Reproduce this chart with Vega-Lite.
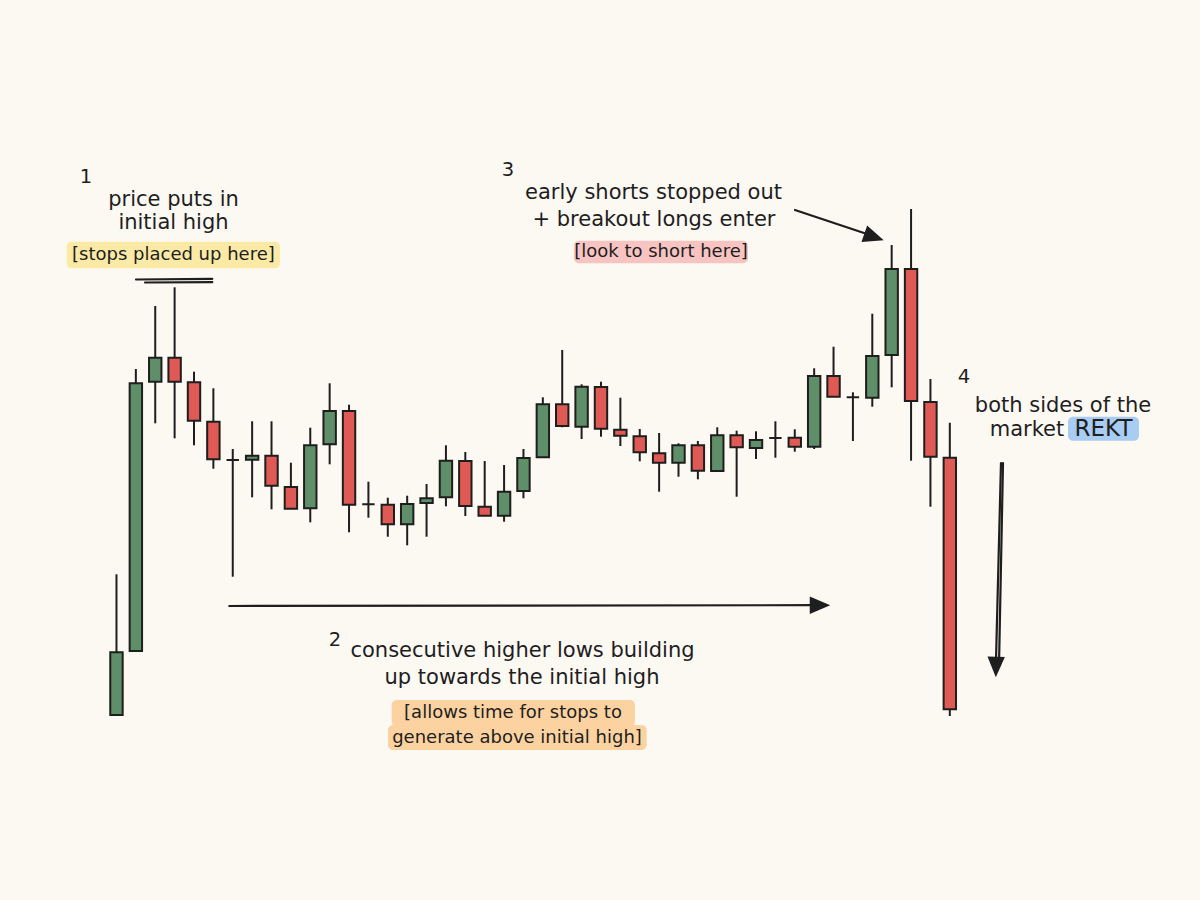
{
  "$schema": "https://vega.github.io/schema/vega-lite/v6.json",
  "width": 1200,
  "height": 900,
  "autosize": {"type": "none"},
  "padding": 0,
  "background": "#fcf8f2",
  "config": {"view": {"stroke": null}},
  "datasets": {
    "candles": [
      {"i": 1, "open": 185, "high": 325.7, "low": 185, "close": 247.7, "dir": "up"},
      {"i": 2, "open": 249, "high": 531, "low": 249, "close": 516.7, "dir": "up"},
      {"i": 3, "open": 518.3, "high": 594, "low": 476.7, "close": 542.3, "dir": "up"},
      {"i": 4, "open": 542.3, "high": 612.7, "low": 461.7, "close": 518.3, "dir": "down"},
      {"i": 5, "open": 517.7, "high": 528.3, "low": 454.7, "close": 479.3, "dir": "down"},
      {"i": 6, "open": 478.3, "high": 511.7, "low": 431.3, "close": 440.7, "dir": "down"},
      {"i": 7, "open": 440, "high": 451, "low": 323.3, "close": 440, "dir": "up"},
      {"i": 8, "open": 440.3, "high": 478.7, "low": 402.7, "close": 444.3, "dir": "up"},
      {"i": 9, "open": 444.3, "high": 478.7, "low": 390.7, "close": 414.3, "dir": "down"},
      {"i": 10, "open": 413, "high": 437.3, "low": 391.3, "close": 391.3, "dir": "down"},
      {"i": 11, "open": 391.7, "high": 472.3, "low": 377.7, "close": 454.7, "dir": "up"},
      {"i": 12, "open": 455.7, "high": 516.7, "low": 435.7, "close": 489, "dir": "up"},
      {"i": 13, "open": 489, "high": 495.3, "low": 367.7, "close": 395.3, "dir": "down"},
      {"i": 14, "open": 395.7, "high": 418.3, "low": 382.3, "close": 395.7, "dir": "up"},
      {"i": 15, "open": 395.3, "high": 402.3, "low": 363.3, "close": 375.7, "dir": "down"},
      {"i": 16, "open": 375.7, "high": 404.3, "low": 354.7, "close": 396, "dir": "up"},
      {"i": 17, "open": 397, "high": 416, "low": 363.3, "close": 401.7, "dir": "up"},
      {"i": 18, "open": 402.7, "high": 454.7, "low": 393.7, "close": 439.3, "dir": "up"},
      {"i": 19, "open": 439, "high": 448, "low": 384, "close": 394, "dir": "down"},
      {"i": 20, "open": 393.3, "high": 439, "low": 384.3, "close": 384.3, "dir": "down"},
      {"i": 21, "open": 384.3, "high": 435, "low": 378.3, "close": 408.3, "dir": "up"},
      {"i": 22, "open": 409, "high": 451, "low": 401.7, "close": 442, "dir": "up"},
      {"i": 23, "open": 442.7, "high": 502.7, "low": 442.7, "close": 495.7, "dir": "up"},
      {"i": 24, "open": 495.7, "high": 550, "low": 472.7, "close": 474, "dir": "down"},
      {"i": 25, "open": 473.3, "high": 515.7, "low": 461, "close": 513.3, "dir": "up"},
      {"i": 26, "open": 513, "high": 518.3, "low": 463.3, "close": 471.3, "dir": "down"},
      {"i": 27, "open": 470.3, "high": 502.3, "low": 454, "close": 464.3, "dir": "down"},
      {"i": 28, "open": 463.7, "high": 471, "low": 438.7, "close": 447.7, "dir": "down"},
      {"i": 29, "open": 446.7, "high": 467, "low": 408.3, "close": 437.3, "dir": "down"},
      {"i": 30, "open": 437.3, "high": 456.7, "low": 423.3, "close": 454.7, "dir": "up"},
      {"i": 31, "open": 454.7, "high": 459, "low": 420.7, "close": 429.3, "dir": "down"},
      {"i": 32, "open": 429, "high": 472.7, "low": 429, "close": 464.7, "dir": "up"},
      {"i": 33, "open": 464.7, "high": 469.3, "low": 403.3, "close": 452.7, "dir": "down"},
      {"i": 34, "open": 452, "high": 468.7, "low": 441, "close": 460, "dir": "up"},
      {"i": 35, "open": 462, "high": 478.7, "low": 442.3, "close": 462, "dir": "up"},
      {"i": 36, "open": 462.3, "high": 470.7, "low": 448.3, "close": 453.3, "dir": "down"},
      {"i": 37, "open": 453.3, "high": 531.7, "low": 451, "close": 524, "dir": "up"},
      {"i": 38, "open": 524, "high": 553.3, "low": 503.3, "close": 503.3, "dir": "down"},
      {"i": 39, "open": 502.7, "high": 507.7, "low": 459, "close": 502.7, "dir": "up"},
      {"i": 40, "open": 502.3, "high": 586.3, "low": 493.3, "close": 544, "dir": "up"},
      {"i": 41, "open": 545, "high": 655, "low": 512.7, "close": 631, "dir": "up"},
      {"i": 42, "open": 631, "high": 691, "low": 439.3, "close": 499, "dir": "down"},
      {"i": 43, "open": 498, "high": 521, "low": 393.3, "close": 443.3, "dir": "down"},
      {"i": 44, "open": 442.3, "high": 477.3, "low": 184, "close": 190.7, "dir": "down"}
    ],
    "boxes": [
      {"x": -1.569, "x2": 9.438, "y": 658.3, "y2": 631.7, "kind": "yellow"},
      {"x": 24.608, "x2": 33.586, "y": 659.3, "y2": 636.7, "kind": "pink"},
      {"x": 15.201, "x2": 27.755, "y": 200, "y2": 173.3, "kind": "orange"},
      {"x": 15.01, "x2": 28.359, "y": 175, "y2": 150, "kind": "orange"},
      {"x": 50.098, "x2": 53.761, "y": 483.3, "y2": 459.3, "kind": "blue"}
    ],
    "lines": [
      {"x": 2.007, "x2": 5.944, "y": 620.5, "y2": 621.2},
      {"x": 2.472, "x2": 5.944, "y": 617.5, "y2": 617.8},
      {"x": 36.011, "x2": 40.036, "y": 690, "y2": 664},
      {"x": 6.821, "x2": 37.1, "y": 294, "y2": 294.8},
      {"x": 46.64, "x2": 46.383, "y": 437, "y2": 240},
      {"x": 46.744, "x2": 46.538, "y": 437, "y2": 235}
    ],
    "heads": [
      {"x": 40.088, "y": 663, "angle": 19},
      {"x": 37.3, "y": 294.8, "angle": 0},
      {"x": 46.383, "y": 233, "angle": 91}
    ],
    "nums": [
      {"x": -0.573, "y": 723, "text": "1"},
      {"x": 21.202, "y": 730, "text": "3"},
      {"x": 12.276, "y": 260, "text": "2"},
      {"x": 44.732, "y": 523, "text": "4"}
    ],
    "notes": [
      {"x": 3.942, "y": 700, "text": "price puts in"},
      {"x": 3.942, "y": 677, "text": "initial high"},
      {"x": 28.71, "y": 707, "text": "early shorts stopped out"},
      {"x": 28.736, "y": 680, "text": "+ breakout longs enter"},
      {"x": 21.95, "y": 249, "text": "consecutive higher lows building"},
      {"x": 21.925, "y": 222, "text": "up towards the initial high"},
      {"x": 49.84, "y": 494, "text": "both sides of the"},
      {"x": 47.983, "y": 470, "text": "market"}
    ],
    "tags": [
      {"x": 3.937, "y": 645, "text": "[stops placed up here]"},
      {"x": 29.097, "y": 648, "text": "[look to short here]"},
      {"x": 21.46, "y": 187, "text": "[allows time for stops to"},
      {"x": 21.667, "y": 162, "text": "generate above initial high]"}
    ],
    "shout": [
      {"x": 51.93, "y": 471, "text": "REKT"}
    ]
  },
  "layer": [
    {
      "data": {"name": "boxes"},
      "mark": {"type": "rect", "cornerRadius": 5},
      "encoding": {
        "x": {"field": "x", "type": "quantitative", "scale": {"domain": [-5.01, 56.909], "nice": false, "zero": false, "padding": 0}, "axis": null},
        "x2": {"field": "x2"},
        "y": {"field": "y", "type": "quantitative", "scale": {"domain": [0, 900], "nice": false, "zero": false, "padding": 0}, "axis": null},
        "y2": {"field": "y2"},
        "color": {"field": "kind", "type": "nominal", "legend": null,
          "scale": {"domain": ["yellow", "pink", "orange", "blue"], "range": ["#fbeaa6", "#f8c4c2", "#fcd3a0", "#a9cdf2"]}}
      }
    },
    {
      "data": {"name": "lines"},
      "mark": {"type": "rule", "color": "#1e1e1e", "strokeWidth": 2.2, "strokeCap": "round"},
      "encoding": {
        "x": {"field": "x", "type": "quantitative"},
        "x2": {"field": "x2"},
        "y": {"field": "y", "type": "quantitative"},
        "y2": {"field": "y2"}
      }
    },
    {
      "data": {"name": "heads"},
      "mark": {"type": "point", "shape": "M -1 -0.85 L 1 0 L -1 0.85 Z", "filled": true, "color": "#1e1e1e", "opacity": 1, "size": 420},
      "encoding": {
        "x": {"field": "x", "type": "quantitative"},
        "y": {"field": "y", "type": "quantitative"},
        "angle": {"field": "angle", "type": "quantitative", "scale": null}
      }
    },
    {
      "data": {"name": "candles"},
      "mark": {"type": "rule", "color": "#1e1e1e", "strokeWidth": 2},
      "encoding": {
        "x": {"field": "i", "type": "quantitative"},
        "y": {"field": "low", "type": "quantitative"},
        "y2": {"field": "high"}
      }
    },
    {
      "data": {"name": "candles"},
      "mark": {"type": "bar", "width": 12.4, "stroke": "#1e1e1e", "strokeWidth": 2},
      "encoding": {
        "x": {"field": "i", "type": "quantitative"},
        "y": {"field": "open", "type": "quantitative"},
        "y2": {"field": "close"},
        "fill": {"field": "dir", "type": "nominal", "legend": null,
          "scale": {"domain": ["up", "down"], "range": ["#5f8f69", "#df5a55"]}}
      }
    },
    {
      "data": {"name": "nums"},
      "mark": {"type": "text", "font": "DejaVu Sans", "fontSize": 19.5, "color": "#1e1e1e", "align": "center", "baseline": "middle"},
      "encoding": {
        "x": {"field": "x", "type": "quantitative"},
        "y": {"field": "y", "type": "quantitative"},
        "text": {"field": "text"}
      }
    },
    {
      "data": {"name": "notes"},
      "mark": {"type": "text", "font": "DejaVu Sans", "fontSize": 21, "color": "#1e1e1e", "align": "center", "baseline": "middle"},
      "encoding": {
        "x": {"field": "x", "type": "quantitative"},
        "y": {"field": "y", "type": "quantitative"},
        "text": {"field": "text"}
      }
    },
    {
      "data": {"name": "tags"},
      "mark": {"type": "text", "font": "DejaVu Sans", "fontSize": 18, "color": "#1e1e1e", "align": "center", "baseline": "middle"},
      "encoding": {
        "x": {"field": "x", "type": "quantitative"},
        "y": {"field": "y", "type": "quantitative"},
        "text": {"field": "text"}
      }
    },
    {
      "data": {"name": "shout"},
      "mark": {"type": "text", "font": "DejaVu Sans", "fontSize": 23, "color": "#1e1e1e", "align": "center", "baseline": "middle"},
      "encoding": {
        "x": {"field": "x", "type": "quantitative"},
        "y": {"field": "y", "type": "quantitative"},
        "text": {"field": "text"}
      }
    }
  ]
}
